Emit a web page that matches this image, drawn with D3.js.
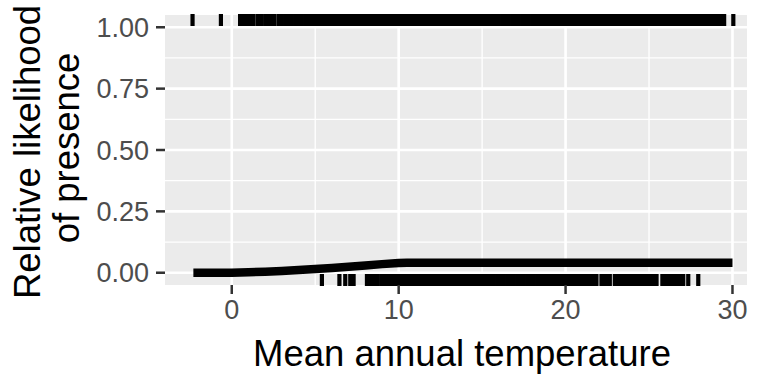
<!DOCTYPE html>
<html>
<head>
<meta charset="utf-8">
<script src="https://cdn.jsdelivr.net/npm/d3@7"></script>
<style>
  body { margin: 0; background: #fff; }
  text { font-family: "Liberation Sans", Arial, sans-serif; }
</style>
</head>
<body>
<script>
// fitted curve (temperature vs relative likelihood)
const curveTemps = [-2.3, 0, 1, 2, 3, 4, 5, 6, 7, 8, 9, 10, 10.5, 15, 20, 25, 30]
const curveValues = [0, 0, 0.002, 0.004, 0.007, 0.011, 0.015, 0.019, 0.024, 0.029, 0.035, 0.040, 0.041, 0.041, 0.041, 0.041, 0.041]

// rug: temperatures of presence records (top) and absence records (bottom)
const presenceTemps = [-2.35, -0.65, 0.5, 0.7, 0.85, 1.1, 1.3, 1.55, 1.75, 2.0, 2.2, 2.4, 2.55,
  2.8, 3.0, 3.2, 3.4, 3.6, 3.8, 4.0, 4.2, 4.4, 4.6, 4.8, 5.0, 5.2, 5.4, 5.6, 5.8,
  6.0, 6.2, 6.4, 6.6, 6.8, 7.0, 7.2, 7.4, 7.6, 7.8, 8.0, 8.2, 8.4, 8.6, 8.8,
  9.0, 9.2, 9.4, 9.6, 9.8, 10.0, 10.2, 10.4, 10.6, 10.8, 11.0, 11.2, 11.4, 11.6, 11.8,
  12.0, 12.2, 12.4, 12.6, 12.8, 13.0, 13.2, 13.4, 13.6, 13.8, 14.0, 14.2, 14.4, 14.6, 14.8,
  15.0, 15.2, 15.4, 15.6, 15.8, 16.0, 16.2, 16.4, 16.6, 16.8, 17.0, 17.2, 17.4, 17.6, 17.8,
  18.0, 18.2, 18.4, 18.6, 18.8, 19.0, 19.2, 19.4, 19.6, 19.8, 20.0, 20.2, 20.4, 20.6, 20.8,
  21.0, 21.2, 21.4, 21.6, 21.8, 22.0, 22.2, 22.4, 22.6, 22.8, 23.0, 23.2, 23.4, 23.6, 23.8,
  24.0, 24.2, 24.4, 24.6, 24.8, 25.0, 25.2, 25.4, 25.6, 25.8, 26.0, 26.2, 26.4, 26.6, 26.8,
  27.0, 27.2, 27.4, 27.6, 27.8, 28.0, 28.2, 28.4, 28.6, 28.8, 29.0, 29.2, 29.4, 29.5, 30.05]
const absenceTemps = [5.4, 6.45, 6.8, 7.1, 7.3, 8.1, 8.3, 8.5, 8.7,
  8.95, 9.1, 9.3, 9.5, 9.7, 9.9, 10.1, 10.3, 10.5, 10.7, 10.9, 11.1, 11.3, 11.5, 11.7, 11.9,
  12.1, 12.3, 12.5, 12.7, 12.9, 13.1, 13.3, 13.5, 13.7, 13.9, 14.1, 14.3, 14.5, 14.7, 14.9,
  15.1, 15.3, 15.5, 15.7, 15.9, 16.1, 16.3, 16.5, 16.7, 16.9, 17.1, 17.3, 17.5, 17.7, 17.9,
  18.1, 18.3, 18.5, 18.7, 18.9, 19.1, 19.3, 19.5, 19.7, 19.9, 20.1, 20.3, 20.5, 20.7, 20.9,
  21.1, 21.3, 21.5, 21.7, 21.85, 22.15, 22.35, 22.55, 22.65, 22.95, 23.1, 23.3, 23.5, 23.7, 23.9,
  24.1, 24.3, 24.5, 24.7, 24.9, 25.1, 25.3, 25.45, 25.8, 26.0, 26.2, 26.4, 26.6, 26.75, 26.95,
  27.05, 27.35, 27.95]

const xTicks = [0, 10, 20, 30]
const xMinor = [5, 15, 25]
const yTicks = [0, 0.25, 0.5, 0.75, 1]
const yMinor = [0.125, 0.375, 0.625, 0.875]
const xTitle = 'Mean annual temperature'
const yTitle = ['Relative likelihood', 'of presence']

const width = 757
const height = 383
const panel = { left: 165, right: 747, top: 15, bottom: 285 }

const x = d3.scaleLinear().domain([-4, 30.87]).range([panel.left, panel.right])
const y = d3.scaleLinear().domain([-0.05, 1.05]).range([panel.bottom, panel.top])

const svg = d3.select('body')
  .append('svg')
  .attr('width', width)
  .attr('height', height)

svg.append('rect')
  .attr('x', panel.left)
  .attr('y', panel.top)
  .attr('width', panel.right - panel.left)
  .attr('height', panel.bottom - panel.top)
  .attr('fill', '#ebebeb')

const grid = svg.append('g')
grid.selectAll('.xminor').data(xMinor).enter().append('line')
  .attr('x1', d => x(d)).attr('x2', d => x(d))
  .attr('y1', panel.top).attr('y2', panel.bottom)
  .attr('stroke', '#fff').attr('stroke-width', 1.3)
grid.selectAll('.yminor').data(yMinor).enter().append('line')
  .attr('y1', d => y(d)).attr('y2', d => y(d))
  .attr('x1', panel.left).attr('x2', panel.right)
  .attr('stroke', '#fff').attr('stroke-width', 1.3)
grid.selectAll('.xmajor').data(xTicks).enter().append('line')
  .attr('x1', d => x(d)).attr('x2', d => x(d))
  .attr('y1', panel.top).attr('y2', panel.bottom)
  .attr('stroke', '#fff').attr('stroke-width', 2.6)
grid.selectAll('.ymajor').data(yTicks).enter().append('line')
  .attr('y1', d => y(d)).attr('y2', d => y(d))
  .attr('x1', panel.left).attr('x2', panel.right)
  .attr('stroke', '#fff').attr('stroke-width', 2.6)

// rugs
const rugLen = 12
svg.append('g').selectAll('line').data(presenceTemps).enter().append('line')
  .attr('x1', d => x(d)).attr('x2', d => x(d))
  .attr('y1', panel.top - 1).attr('y2', panel.top + rugLen - 1)
  .attr('stroke', '#000').attr('stroke-width', 4.2)
svg.append('g').selectAll('line').data(absenceTemps).enter().append('line')
  .attr('x1', d => x(d)).attr('x2', d => x(d))
  .attr('y1', panel.bottom - rugLen + 1).attr('y2', panel.bottom + 1)
  .attr('stroke', '#000').attr('stroke-width', 4.2)

// fitted line
const line = d3.line()
  .x((d, i) => x(curveTemps[i]))
  .y(d => y(d))
svg.append('path')
  .datum(curveValues)
  .attr('d', line)
  .attr('fill', 'none')
  .attr('stroke', '#000')
  .attr('stroke-width', 8.5)
  .attr('stroke-linejoin', 'round')

// axes
const yAxis = svg.append('g')
yAxis.selectAll('line').data(yTicks).enter().append('line')
  .attr('x1', panel.left - 9).attr('x2', panel.left)
  .attr('y1', d => y(d)).attr('y2', d => y(d))
  .attr('stroke', '#333').attr('stroke-width', 2.5)
yAxis.selectAll('text').data(yTicks).enter().append('text')
  .attr('x', panel.left - 16)
  .attr('y', d => y(d) + 9.5)
  .attr('text-anchor', 'end')
  .attr('font-size', 27)
  .attr('fill', '#4d4d4d')
  .text(d => d3.format('.2f')(d))

const xAxis = svg.append('g')
xAxis.selectAll('line').data(xTicks).enter().append('line')
  .attr('x1', d => x(d)).attr('x2', d => x(d))
  .attr('y1', panel.bottom).attr('y2', panel.bottom + 9)
  .attr('stroke', '#333').attr('stroke-width', 2.5)
xAxis.selectAll('text').data(xTicks).enter().append('text')
  .attr('x', d => x(d))
  .attr('y', panel.bottom + 34)
  .attr('text-anchor', 'middle')
  .attr('font-size', 27)
  .attr('fill', '#4d4d4d')
  .text(d => d)

svg.append('text')
  .attr('x', 462)
  .attr('y', 366)
  .attr('text-anchor', 'middle')
  .attr('font-size', 36.5)
  .attr('fill', '#000')
  .text(xTitle)

svg.selectAll('.ytitle').data(yTitle).enter().append('text')
  .attr('transform', (d, i) => `translate(${40 + i * 39},${152 - i * 4}) rotate(-90)`)
  .attr('text-anchor', 'middle')
  .attr('font-size', 36.5)
  .attr('fill', '#000')
  .text(d => d)
</script>
</body>
</html>
